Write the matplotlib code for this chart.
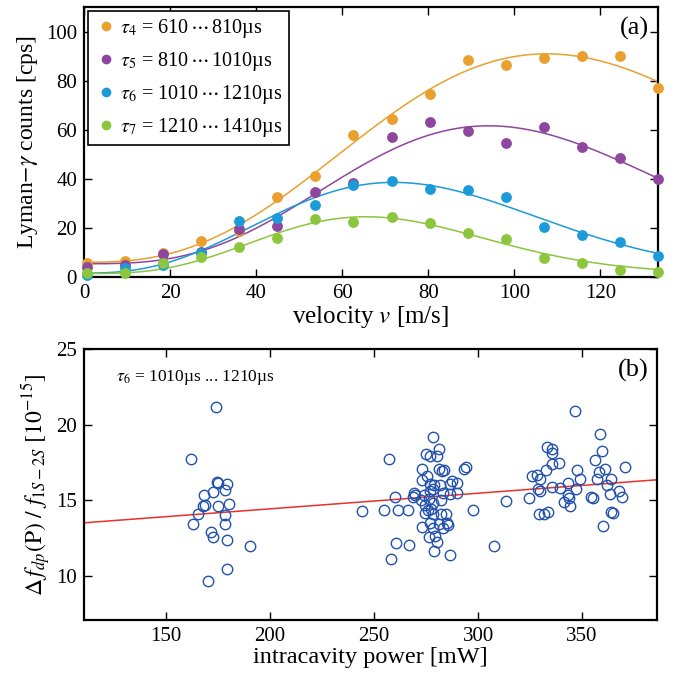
import numpy as np
import matplotlib
matplotlib.use("Agg")
import matplotlib.pyplot as plt
from matplotlib.lines import Line2D

plt.rcParams['font.family'] = 'serif'
plt.rcParams['font.serif'] = ['Liberation Serif', 'DejaVu Serif']
plt.rcParams['mathtext.fontset'] = 'stix'

# ---------------- data: panel (a) ----------------
velocity = [0.7, 9.5, 18.4, 27.2, 36.1, 44.9, 53.8, 62.6, 71.5, 80.3, 89.2, 98.0, 106.9, 115.7, 124.6, 133.4]
counts_tau4 = [5.6, 6.5, 9.6, 14.7, 18.8, 32.7, 41.1, 57.7, 64.5, 74.4, 88.3, 86.2, 89.3, 90.2, 90.2, 76.9]
counts_tau5 = [4.2, 4.8, 9.4, 10.3, 19.6, 20.7, 34.6, 38.2, 57.1, 63.3, 59.6, 54.6, 61.3, 52.9, 48.4, 40.0]
counts_tau6 = [1.0, 3.5, 4.8, 9.9, 22.9, 24.0, 29.3, 37.3, 39.3, 35.9, 35.6, 32.7, 20.5, 17.1, 14.2, 8.4]
counts_tau7 = [1.8, 1.5, 5.6, 8.3, 12.4, 15.9, 23.6, 22.6, 24.6, 21.9, 18.0, 15.5, 7.9, 5.6, 2.9, 2.0]
series_labels = [r'$\tau_4$ = 610$\,\cdots\,$810µs', r'$\tau_5$ = 810$\,\cdots\,$1010µs',
                 r'$\tau_6$ = 1010$\,\cdots\,$1210µs', r'$\tau_7$ = 1210$\,\cdots\,$1410µs']
series_colors = ['#E9A02F', '#8E469E', '#1C9BD8', '#8CC63E']

# ---------------- data: panel (b) ----------------
power = [174.1, 162.1, 174.4, 174.9, 179.4, 178.3, 172.5, 168.5, 168.9, 168.0, 174.9, 180.3, 165.3, 178.3,
         163.0, 178.3, 171.7, 172.8, 179.5, 190.6, 179.2, 170.1,
         244.4, 254.7, 257.2, 258.0, 278.3, 281.3, 274.9, 277.0, 280.2, 273.0, 281.4, 282.7, 283.8, 293.0,
         294.0, 275.4, 273.0, 277.0, 279.0, 281.8, 286.3, 287.7, 290.1, 278.4, 277.0, 283.1, 286.4, 289.9,
         269.4, 269.8, 273.8, 260.1, 268.6, 272.5, 276.6, 282.4, 278.3, 274.6, 261.3, 266.1, 275.7, 277.5,
         297.6, 274.6, 278.1, 282.3, 284.5, 277.0, 281.0, 285.0, 285.6, 273.0, 278.3, 283.1, 276.6, 279.3,
         260.5, 266.9, 280.5, 307.8, 278.7, 286.3,
         313.4, 346.7, 358.8, 333.2, 335.3, 335.6, 359.7, 356.0, 335.6, 338.7, 370.7, 332.7, 347.5, 358.1,
         360.8, 326.1, 328.3, 329.9, 348.9, 357.4, 364.1, 343.0, 361.9, 335.5, 339.5, 347.3, 329.0, 329.9,
         367.8, 343.2, 363.4, 369.3, 354.2, 355.0, 343.9, 324.4, 341.1, 344.3, 329.2, 331.8, 333.7, 363.8,
         364.9, 359.9]
shift = [21.16, 17.71, 16.21, 16.14, 16.04, 15.66, 15.51, 15.37, 14.71, 14.60, 14.62, 14.74, 14.10, 13.99,
         13.39, 13.43, 12.87, 12.58, 12.36, 11.94, 10.44, 9.63,
         14.25, 14.33, 17.75, 11.12, 19.18, 18.39, 18.02, 17.91, 17.95, 17.03, 17.03, 16.94, 17.00, 17.07,
         17.20, 16.63, 16.32, 16.10, 15.97, 15.97, 16.06, 16.27, 16.14, 15.73, 15.59, 15.48, 15.40, 15.44,
         15.48, 15.31, 15.33, 15.20, 15.22, 15.00, 15.09, 15.00, 14.82, 14.67, 14.38, 14.36, 14.38, 14.42,
         14.36, 14.16, 14.08, 14.08, 14.10, 13.50, 13.41, 13.50, 13.35, 13.24, 13.13, 13.13, 12.58, 12.62,
         12.18, 12.03, 12.23, 11.95, 11.63, 11.37,
         14.93, 20.90, 19.36, 18.50, 18.41, 18.13, 18.26, 17.64, 17.42, 17.46, 17.20, 16.98, 16.98, 16.89,
         17.05, 16.59, 16.65, 16.39, 16.37, 16.39, 16.43, 16.15, 16.01, 15.86, 15.79, 15.77, 15.73, 15.59,
         15.59, 15.33, 15.38, 15.22, 15.22, 15.11, 15.15, 15.11, 14.89, 14.62, 14.08, 14.10, 14.21, 14.23,
         14.16, 13.30]


def fit_peak(v, y):
    """Least-squares fit of y = c + A*(v/vp)^n*exp(-n/2*((v/vp)^2-1)) over a parameter grid."""
    v = np.asarray(v, float)
    y = np.asarray(y, float)
    ns = np.arange(1.0, 6.01, 0.05)
    vps = np.arange(40.0, 160.0, 0.5)
    N, VP = np.meshgrid(ns, vps, indexing='ij')
    x = v[None, None, :] / VP[..., None]
    g = x ** N[..., None] * np.exp(-N[..., None] / 2 * (x ** 2 - 1))
    gm = g.mean(-1)
    ym = y.mean()
    cov = ((g - gm[..., None]) * (y - ym)).mean(-1)
    var = ((g - gm[..., None]) ** 2).mean(-1)
    A = cov / var
    res = ((y - ym) ** 2).mean() - cov ** 2 / var
    i, j = np.unravel_index(np.argmin(res), res.shape)
    n, vp, a = ns[i], vps[j], A[i, j]
    c = ym - a * gm[i, j]
    return lambda t: c + a * (t / vp) ** n * np.exp(-n / 2 * ((t / vp) ** 2 - 1))


fig = plt.figure(figsize=(6.75, 6.77), dpi=100)
ax1 = fig.add_axes([84 / 675, 1 - 277 / 677, 574 / 675, 270 / 677])
ax2 = fig.add_axes([84 / 675, 1 - 620 / 677, 573 / 675, 271 / 677])

vv = np.linspace(0, 133.4, 400)
handles = []
for yv, lab, col in zip([counts_tau4, counts_tau5, counts_tau6, counts_tau7], series_labels, series_colors):
    f = fit_peak(velocity, yv)
    ax1.plot(vv, f(vv), color=col, lw=1.1, zorder=2)
    ax1.plot(velocity, yv, 'o', color=col, ms=7.8, mec='none', zorder=3, clip_on=False)
    handles.append(Line2D([], [], ls='none', marker='o', color=col, ms=7, mec='none', label=lab))

ax1.set_xlim(0, 133.4)
ax1.set_ylim(0, 110)
ax1.set_xticks([0, 20, 40, 60, 80, 100, 120])
ax1.set_yticks([0, 20, 40, 60, 80, 100])
ax1.set_xlabel(r'velocity $v$ [m/s]', fontsize=18, labelpad=1)
ax1.set_ylabel(r'Lyman$-\gamma$ counts [cps]', fontsize=17, labelpad=4)
ax1.text(0.985, 0.965, '(a)', transform=ax1.transAxes, ha='right', va='top', fontsize=19)
leg = ax1.legend(handles=handles, loc='upper left', fontsize=14.5, frameon=True, fancybox=False,
                 borderaxespad=0.2, handletextpad=0.1, handlelength=1.2, labelspacing=0.5,
                 borderpad=0.3, framealpha=1)
leg.get_frame().set_edgecolor('black')
leg.get_frame().set_linewidth(1.2)

# panel (b)
ax2.plot(power, shift, 'o', mfc='none', mec='#2252AE', mew=1.0, ms=7.5, zorder=3)
coef = np.polyfit(power, shift, 1)
pp = np.array([110.6, 386.0])
ax2.plot(pp, np.polyval(coef, pp), color='#E8312C', lw=1.1, zorder=2)
ax2.set_xlim(110.6, 386.0)
ax2.set_ylim(7.07, 25)
ax2.set_xticks([150, 200, 250, 300, 350])
ax2.set_yticks([10, 15, 20, 25])
ax2.set_xlabel('intracavity power [mW]', fontsize=17.5, labelpad=1)
ax2.set_ylabel(r'$\Delta\, f_{dp}(\mathrm{P})\ /\ f_{1S-2S}\ [10^{-15}]$', fontsize=17, labelpad=2)
ax2.text(0.055, 0.93, r'$\tau_6$ = 1010µs ... 1210µs', transform=ax2.transAxes, ha='left', va='top', fontsize=12.5)
ax2.text(0.985, 0.965, '(b)', transform=ax2.transAxes, ha='right', va='top', fontsize=19)

for ax in (ax1, ax2):
    ax.tick_params(direction='in', top=True, right=True, length=6, width=1.0, labelsize=15, pad=5)
    for s in ax.spines.values():
        s.set_linewidth(1.6)

fig.savefig('out.png', dpi=100)
